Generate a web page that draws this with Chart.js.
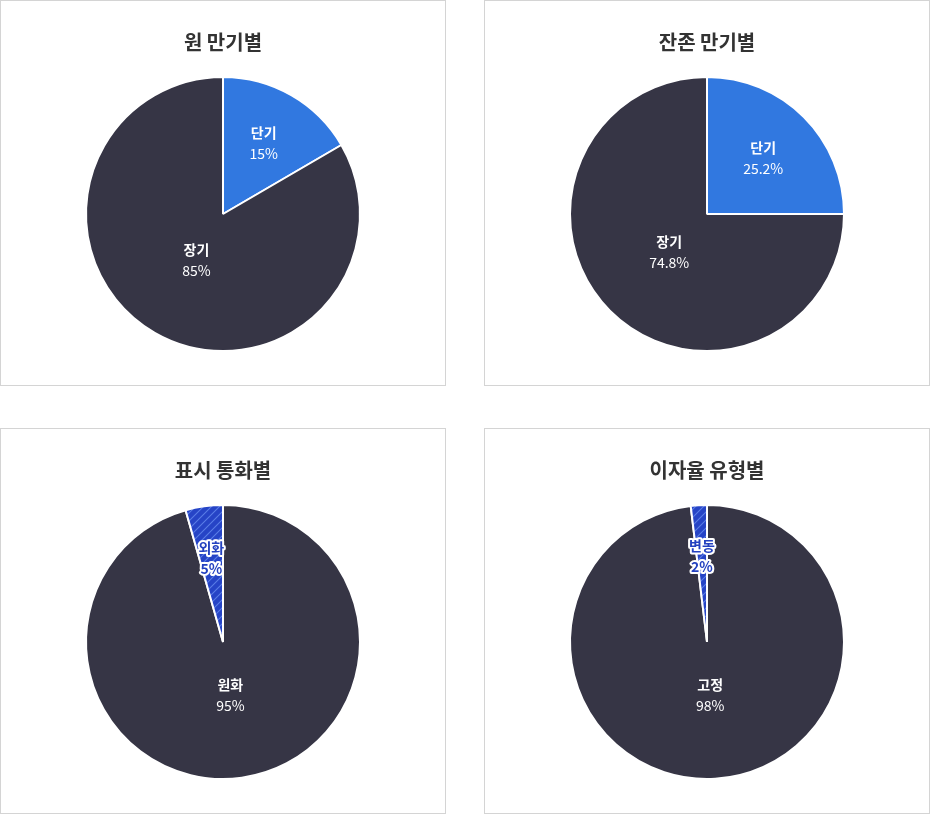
<!DOCTYPE html>
<html>
<head>
<meta charset="utf-8">
<script src="https://cdn.jsdelivr.net/npm/chart.js@4.4.1/dist/chart.umd.min.js"></script>
<style>
    body { margin: 0; background: #fff; font-family: 'Noto Sans CJK KR', 'Noto Sans', sans-serif; }
    .panel { position: absolute; width: 444px; height: 384px; border: 1px solid #d4d4d4; background: #fff; }
    .panel canvas { display: block; }
</style>
</head>
<body>
<div class="panel" style="left:0;top:0"><canvas id="c1" width="444" height="384"></canvas></div>
<div class="panel" style="left:484px;top:0"><canvas id="c2" width="444" height="384"></canvas></div>
<div class="panel" style="left:0;top:428px"><canvas id="c3" width="444" height="384"></canvas></div>
<div class="panel" style="left:484px;top:428px"><canvas id="c4" width="444" height="384"></canvas></div>
<script>
const titles = ['원 만기별', '잔존 만기별', '표시 통화별', '이자율 유형별'];

// slice sizes as drawn; percent texts as printed on the slices
const maturityLabels = ['단기', '장기'];
const maturityValues = [16.6, 83.4];
const maturityText = ['15%', '85%'];

const remainLabels = ['단기', '장기'];
const remainValues = [25, 75];
const remainText = ['25.2%', '74.8%'];

const currencyLabels = ['원화', '외화'];
const currencyValues = [95.6, 4.4];
const currencyText = ['95%', '5%'];

const rateLabels = ['고정', '변동'];
const rateValues = [98.1, 1.9];
const rateText = ['98%', '2%'];

const DARK = '#363545';
const BLUE = '#3178e0';
const HATCH_BASE = '#2644c6';
const HATCH_LINE = '#5a7de6';
const HATCH_TEXT = '#2341c0';

function makeHatch() {
    const p = document.createElement('canvas');
    p.width = 8;
    p.height = 8;
    const ctx = p.getContext('2d');
    ctx.fillStyle = HATCH_BASE;
    ctx.fillRect(0, 0, 8, 8);
    ctx.strokeStyle = HATCH_LINE;
    ctx.lineWidth = 1.1;
    ctx.beginPath();
    ctx.moveTo(-2, 10); ctx.lineTo(10, -2);
    ctx.moveTo(-2, 2); ctx.lineTo(2, -2);
    ctx.moveTo(6, 10); ctx.lineTo(10, 6);
    ctx.stroke();
    return ctx.createPattern(p, 'repeat');
}

// draws "name / value%" inside each slice
const sliceLabels = {
    id: 'sliceLabels',
    afterDatasetsDraw(chart) {
        const ctx = chart.ctx;
        const meta = chart.getDatasetMeta(0);
        const ds = chart.data.datasets[0];
        const data = ds.data;
        const hatched = ds.hatched || [];
        const total = data.reduce((a, b) => a + b, 0);
        meta.data.forEach((arc, i) => {
            const share = data[i] / total;
            const f = share < 0.5 ? 0.63 - 0.2 * share : 0.39;
            const mid = (arc.startAngle + arc.endAngle) / 2;
            const x = arc.x + Math.cos(mid) * arc.outerRadius * f;
            const y = arc.y + Math.sin(mid) * arc.outerRadius * f;
            const lines = [chart.data.labels[i], ds.texts[i]];
            ctx.save();
            ctx.textAlign = 'center';
            ctx.textBaseline = 'middle';
            lines.forEach((t, k) => {
                const ty = y + (k === 0 ? -10.5 : 10.5);
                if (hatched[i]) {
                    ctx.font = "bold 14px 'Noto Sans CJK KR', sans-serif";
                    ctx.lineJoin = 'round';
                    ctx.lineWidth = 4;
                    ctx.strokeStyle = '#fff';
                    ctx.strokeText(t, x, ty);
                    ctx.fillStyle = HATCH_TEXT;
                    ctx.fillText(t, x, ty);
                } else {
                    ctx.font = (k === 0 ? 'bold ' : '') + "14px 'Noto Sans CJK KR', sans-serif";
                    ctx.fillStyle = '#fff';
                    ctx.fillText(t, x, ty);
                }
            });
            ctx.restore();
        });
    }
};

function buildPie(id, title, labels, values, texts, colors, hatched) {
    const ctx = document.getElementById(id).getContext('2d');
    return new Chart(ctx, {
        type: 'pie',
        data: {
            labels: labels,
            datasets: [{
                data: values,
                texts: texts,
                backgroundColor: colors,
                borderColor: '#fff',
                borderWidth: 2,
                hatched: hatched
            }]
        },
        options: {
            responsive: false,
            animation: false,
            layout: { padding: { bottom: 33 } },
            plugins: {
                legend: { display: false },
                tooltip: { enabled: false },
                title: {
                    display: true,
                    text: title,
                    color: '#333',
                    font: { family: "'Noto Sans CJK KR', sans-serif", size: 20, weight: 'bold' },
                    padding: { top: 29, bottom: 22 }
                }
            }
        },
        plugins: [sliceLabels]
    });
}

window.addEventListener('DOMContentLoaded', () => {
    const hatch = makeHatch();
    buildPie('c1', titles[0], maturityLabels, maturityValues, maturityText, [BLUE, DARK], [false, false]);
    buildPie('c2', titles[1], remainLabels, remainValues, remainText, [BLUE, DARK], [false, false]);
    buildPie('c3', titles[2], currencyLabels, currencyValues, currencyText, [DARK, hatch], [false, true]);
    buildPie('c4', titles[3], rateLabels, rateValues, rateText, [DARK, hatch], [false, true]);
});
</script>
</body>
</html>
